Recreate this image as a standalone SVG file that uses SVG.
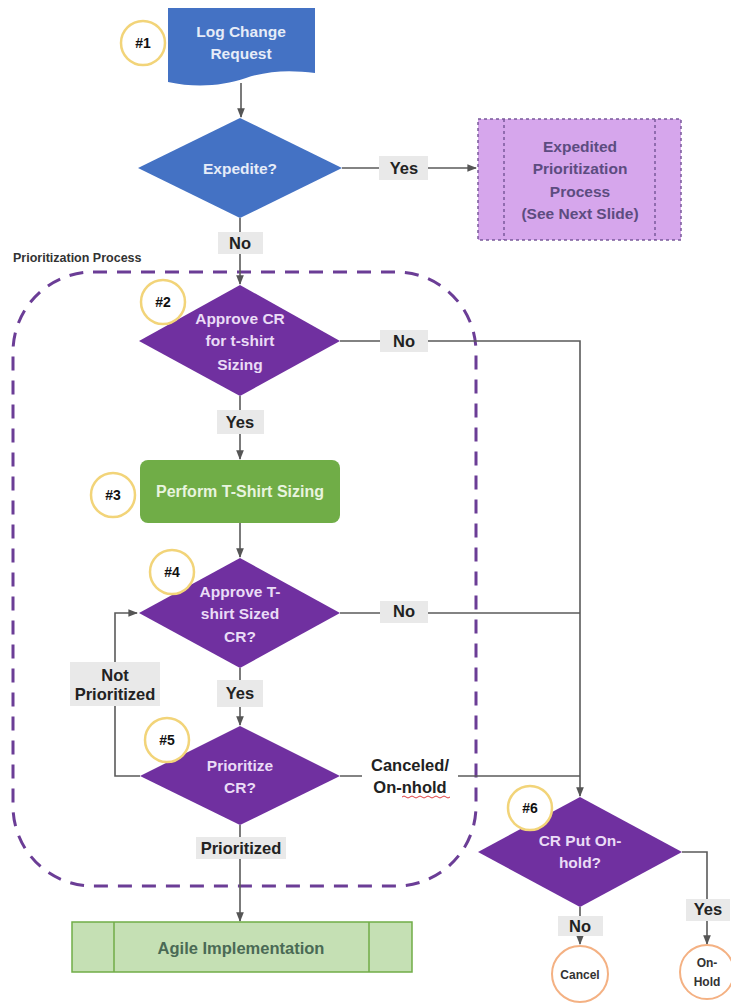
<svg xmlns="http://www.w3.org/2000/svg" width="731" height="1007" viewBox="0 0 731 1007">
<defs>
<marker id="ah" viewBox="0 0 10 10" refX="9" refY="5" markerWidth="6" markerHeight="6" orient="auto-start-reverse">
<path d="M0,1 L10,5 L0,9 Z" fill="#555"/>
</marker>
<style>
text{font-family:"Liberation Sans",Arial,sans-serif;font-weight:bold;text-anchor:middle;dominant-baseline:central}
.lbl rect{fill:#e9e9e9}
.lbl text{font-size:16.5px;fill:#222}
.conn{fill:none;stroke:#5a5a5a;stroke-width:1.6}
.num circle{fill:#fff;stroke:#f2d479;stroke-width:2.5}
.num text{font-size:14px;fill:#111}
.dia{fill:#7030a0}
.dtxt{font-size:15.5px;fill:#eadcf6}
.end circle{fill:#fff;stroke:#f4b183;stroke-width:2}
.end text{font-size:12px;fill:#333}
</style>
</defs>
<rect width="731" height="1007" fill="#fff"/>

<!-- container -->
<g id="prioritization-process">
<rect x="13" y="272" width="463" height="614" rx="80" ry="80" fill="none" stroke="#6b3d96" stroke-width="3" stroke-dasharray="14,10"/>
<text x="13" y="258" font-size="12.5" fill="#333" style="text-anchor:start">Prioritization Process</text>
</g>

<!-- connectors -->
<g id="connectors">
<path class="conn" d="M241,83 V117" marker-end="url(#ah)"/>
<path class="conn" d="M342,168 H476" marker-end="url(#ah)"/>
<path class="conn" d="M240,218 V284" marker-end="url(#ah)"/>
<path class="conn" d="M340,341 H580 V796" marker-end="url(#ah)"/>
<path class="conn" d="M240,396 V459" marker-end="url(#ah)"/>
<path class="conn" d="M240,523 V557" marker-end="url(#ah)"/>
<path class="conn" d="M340,613 H580"/>
<path class="conn" d="M240,668 V725" marker-end="url(#ah)"/>
<path class="conn" d="M140,776 H115 V613 H137" marker-end="url(#ah)"/>
<path class="conn" d="M340,776 H580"/>
<path class="conn" d="M240,825 V921" marker-end="url(#ah)"/>
<path class="conn" d="M580,907 V944" marker-end="url(#ah)"/>
<path class="conn" d="M682,852 H707 V944" marker-end="url(#ah)"/>
<g class="lbl">
<rect x="379" y="156" width="49" height="24"/><text x="404" y="168">Yes</text>
<rect x="218" y="232" width="45" height="22"/><text x="240" y="243">No</text>
<rect x="380" y="330" width="48" height="22"/><text x="404" y="341">No</text>
<rect x="217" y="410" width="47" height="24"/><text x="240" y="422">Yes</text>
<rect x="380" y="601" width="48" height="22"/><text x="404" y="611">No</text>
<rect x="70" y="662" width="90" height="44"/><text x="115" y="675">Not</text><text x="115" y="694">Prioritized</text>
<rect x="217" y="680" width="46" height="27"/><text x="240" y="693">Yes</text>
<rect x="362" y="754" width="96" height="46" style="fill:#fff"/><text x="410" y="765">Canceled/</text><text x="410" y="787">On-nhold</text>
<rect x="196" y="837" width="90" height="22"/><text x="241" y="848">Prioritized</text>
<rect x="558" y="916" width="45" height="20"/><text x="580" y="926">No</text>
<rect x="686" y="899" width="44" height="22"/><text x="708" y="909">Yes</text>
</g>
<path d="M402,797 q2,-2 4,0 t4,0 t4,0 t4,0 t4,0 t4,0 t4,0 t4,0 t4,0 t4,0 t4,0 t4,0" fill="none" stroke="#e04040" stroke-width="1"/>
</g>

<g id="n1-log-change-request">
<path d="M168,8 H315 V73 C292,70 270,70 246,78 C222,86 196,88 168,82 Z" fill="#4472c4"/>
<text x="241" y="31" font-size="15.5" fill="#e6ecf8">Log Change</text>
<text x="241" y="53" font-size="15.5" fill="#e6ecf8">Request</text>
</g>

<g id="expedite">
<polygon points="240,118 342,168 240,218 138,168" fill="#4472c4"/>
<text x="240" y="168" font-size="15.5" fill="#e6ecf8">Expedite?</text>
</g>

<g id="expedited-process">
<rect x="478" y="119" width="203" height="121" fill="#d6a6ec" stroke="#7a5a9a" stroke-width="1.5" stroke-dasharray="3,3"/>
<line x1="504" y1="119" x2="504" y2="240" stroke="#7a5a9a" stroke-width="1.5" stroke-dasharray="3,3"/>
<line x1="655" y1="119" x2="655" y2="240" stroke="#7a5a9a" stroke-width="1.5" stroke-dasharray="3,3"/>
<text x="580" y="146" font-size="15.5" fill="#5c4c80">Expedited</text>
<text x="580" y="168" font-size="15.5" fill="#5c4c80">Prioritization</text>
<text x="580" y="191" font-size="15.5" fill="#5c4c80">Process</text>
<text x="580" y="213" font-size="15.5" fill="#5c4c80">(See Next Slide)</text>
</g>

<g id="n2-approve-cr">
<polygon class="dia" points="240,285 340,341 240,396 139,341"/>
<text class="dtxt" x="240" y="318">Approve CR</text>
<text class="dtxt" x="240" y="340">for t-shirt</text>
<text class="dtxt" x="240" y="364">Sizing</text>
</g>

<g id="n3-perform-sizing">
<rect x="140" y="460" width="200" height="63" rx="8" fill="#70ad47"/>
<text x="240" y="491" font-size="16" fill="#e8f4df">Perform T-Shirt Sizing</text>
</g>

<g id="n4-approve-sized">
<polygon class="dia" points="240,558 340,613 240,668 139,613"/>
<text class="dtxt" x="240" y="591">Approve T-</text>
<text class="dtxt" x="240" y="613">shirt Sized</text>
<text class="dtxt" x="240" y="636">CR?</text>
</g>

<g id="n5-prioritize">
<polygon class="dia" points="240,726 340,776 240,825 140,776"/>
<text class="dtxt" x="240" y="765">Prioritize</text>
<text class="dtxt" x="240" y="787">CR?</text>
</g>

<g id="agile-implementation">
<rect x="72" y="922" width="340" height="50" fill="#c5e0b4" stroke="#70ad47" stroke-width="1.5"/>
<line x1="114" y1="922" x2="114" y2="972" stroke="#70ad47" stroke-width="1.5"/>
<line x1="369" y1="922" x2="369" y2="972" stroke="#70ad47" stroke-width="1.5"/>
<text x="241" y="948" font-size="16.5" fill="#4a6a55">Agile Implementation</text>
</g>

<g id="n6-put-on-hold">
<polygon class="dia" points="580,797 682,852 580,907 478,852"/>
<text class="dtxt" x="580" y="840">CR Put On-</text>
<text class="dtxt" x="580" y="862">hold?</text>
</g>

<g id="cancel" class="end">
<circle cx="580" cy="974" r="28"/>
<text x="580" y="975">Cancel</text>
</g>
<g id="on-hold" class="end">
<circle cx="707" cy="972" r="27"/>
<text x="707" y="963">On-</text>
<text x="707" y="982">Hold</text>
</g>

<g id="step-numbers">
<g id="num1" class="num"><circle cx="143" cy="43" r="22"/><text x="143" y="43">#1</text></g>
<g id="num2" class="num"><circle cx="163" cy="302" r="22"/><text x="163" y="302">#2</text></g>
<g id="num3" class="num"><circle cx="113" cy="495" r="22"/><text x="113" y="495">#3</text></g>
<g id="num4" class="num"><circle cx="172" cy="572" r="22"/><text x="172" y="572">#4</text></g>
<g id="num5" class="num"><circle cx="167" cy="740" r="22"/><text x="167" y="740">#5</text></g>
<g id="num6" class="num"><circle cx="530" cy="808" r="22"/><text x="530" y="808">#6</text></g>
</g>
</svg>
